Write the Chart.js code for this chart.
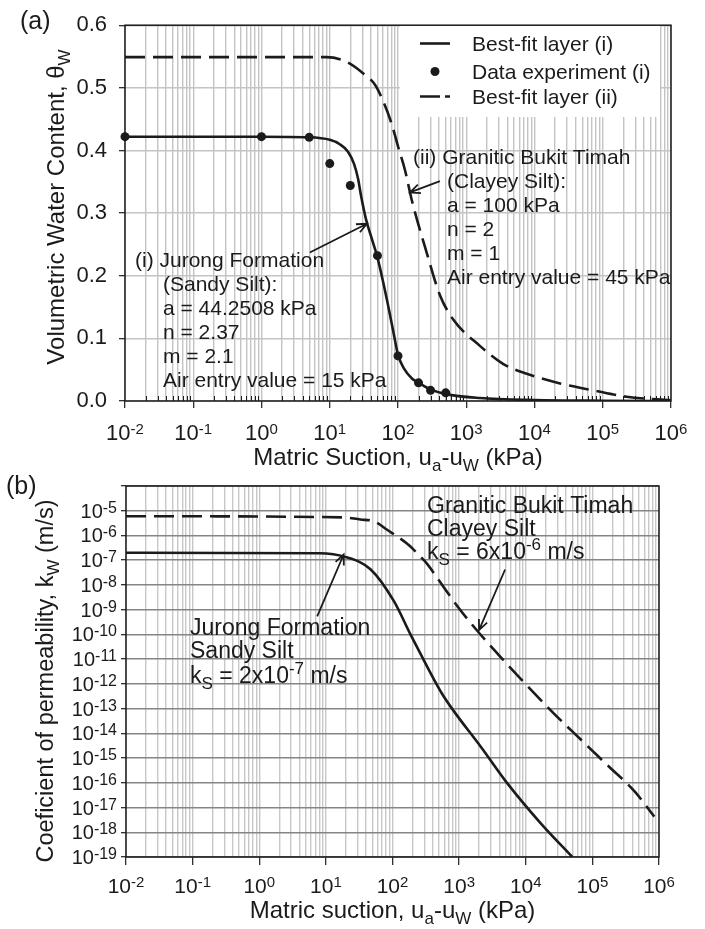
<!DOCTYPE html>
<html>
<head>
<meta charset="utf-8">
<script src="https://cdn.jsdelivr.net/npm/chart.js@4.4.1/dist/chart.umd.min.js"></script>
<style>
  body { margin: 0; background: #fff; width: 705px; height: 929px; position: relative; overflow: hidden; }
  canvas { position: absolute; left: 0; }
  #chartA { top: 0; }
  #chartB { top: 465px; }
</style>
</head>
<body>
<canvas id="chartA" width="705" height="480"></canvas>
<canvas id="chartB" width="705" height="464"></canvas>
<script>
var INK = '#1b1b1b';
var FONT = '"Liberation Sans", Arial, sans-serif';

// (a) water retention: suction (kPa) vs volumetric water content
var suctionFitI = [0.01, 1, 5, 10, 14, 18.5, 22.6, 26, 28.7, 34, 41.6, 49.2, 60, 74, 87, 100, 122, 160, 196, 294, 505, 1585, 10000, 100000, 1000000];
var thetaFitI = [0.422, 0.422, 0.421, 0.417, 0.410, 0.398, 0.379, 0.355, 0.328, 0.290, 0.258, 0.232, 0.192, 0.145, 0.106, 0.074, 0.052, 0.036, 0.030, 0.019, 0.011, 0.0047, 0.0015, 0.0004, 0];
var suctionDataI = [0.01, 1, 5, 10, 20, 50, 100, 200, 300, 500];
var thetaDataI = [0.422, 0.422, 0.421, 0.379, 0.344, 0.232, 0.072, 0.029, 0.017, 0.013];
var suctionFitII = [0.01, 1, 9, 18, 31, 46, 61, 81, 101, 127, 159, 263, 412, 645, 1585, 3500, 7700, 23700, 72800, 224000, 1000000];
var thetaFitII = [0.549, 0.549, 0.549, 0.541, 0.523, 0.505, 0.478, 0.442, 0.405, 0.368, 0.321, 0.237, 0.169, 0.13, 0.088, 0.059, 0.0435, 0.028, 0.017, 0.0068, 0.001];
var thetaTicks = [0, 0.1, 0.2, 0.3, 0.4, 0.5, 0.6];
var suctionExp = [-2, -1, 0, 1, 2, 3, 4, 5, 6];

// (b) permeability functions: suction (kPa) vs k_w (m/s)
var suctionPermI = [0.01, 8, 19.6, 46.7, 105, 186, 331, 420, 560, 832, 2100, 5300, 16800, 50000];
var permI = [2.0e-7, 1.9e-7, 1.35e-7, 4.3e-8, 2.2e-9, 1.0e-10, 5.0e-12, 1.5e-12, 3.8e-13, 7.9e-14, 2.95e-15, 9.5e-17, 2.3e-18, 1.0e-19];
var suctionPermII = [0.01, 18.5, 33, 52, 83, 186, 234, 331, 500, 1000, 1870, 4000, 8400, 26500, 67000, 170000, 430000, 850000];
var permII = [6.0e-6, 5.4e-6, 4.4e-6, 3.8e-6, 1.7e-6, 3.6e-7, 1.9e-7, 7.1e-8, 1.5e-8, 1.12e-9, 1.4e-10, 1.4e-11, 1.6e-12, 6.3e-14, 5.6e-15, 5.0e-16, 4.5e-17, 4.3e-18];
var permExp = [-19, -18, -17, -16, -15, -14, -13, -12, -11, -10, -9, -8, -7, -6, -5];

function pts(xs, ys) {
  return xs.map(function (x, i) { return {x: x, y: ys[i]}; });
}

// decades plus the 2..9 minor values in between
function logTicks(exps, minors) {
  var t = [];
  for (var i = 0; i < exps.length; i++) {
    var base = Math.pow(10, exps[i]);
    t.push({value: base, major: true});
    if (minors && i < exps.length - 1) {
      for (var m = 2; m < 10; m++) t.push({value: m * base, major: false});
    }
  }
  return t;
}

// text runs with superscripts / subscripts: parts = [[text], [text, 'sup'], [text, 'sub']]
function drawRich(ctx, parts, x, y, f, align) {
  var widths = parts.map(function (p) {
    ctx.font = (p[1] ? f.small : f.size) + 'px ' + FONT;
    return ctx.measureText(p[0]).width;
  });
  var total = widths.reduce(function (a, b) { return a + b; }, 0);
  var cx = align === 'center' ? x - total / 2 : (align === 'right' ? x - total : x);
  ctx.textAlign = 'left';
  ctx.textBaseline = 'alphabetic';
  ctx.fillStyle = INK;
  parts.forEach(function (p, i) {
    ctx.font = (p[1] ? f.small : f.size) + 'px ' + FONT;
    var dy = p[1] === 'sup' ? -f.sup : (p[1] === 'sub' ? f.sub : 0);
    ctx.fillText(p[0], cx, y + dy);
    cx += widths[i];
  });
}

function drawArrow(ctx, x1, y1, x2, y2) {
  var a = Math.atan2(y2 - y1, x2 - x1);
  var L = 11, spread = 0.42;
  ctx.save();
  ctx.strokeStyle = INK;
  ctx.lineWidth = 1.8;
  ctx.beginPath();
  ctx.moveTo(x1, y1);
  ctx.lineTo(x2, y2);
  ctx.moveTo(x2 - L * Math.cos(a - spread), y2 - L * Math.sin(a - spread));
  ctx.lineTo(x2, y2);
  ctx.lineTo(x2 - L * Math.cos(a + spread), y2 - L * Math.sin(a + spread));
  ctx.stroke();
  ctx.restore();
}

function frame(chart) {
  var ca = chart.chartArea, ctx = chart.ctx;
  ctx.save();
  ctx.strokeStyle = INK;
  ctx.lineWidth = 1.5;
  ctx.strokeRect(ca.left, ca.top, ca.right - ca.left, ca.bottom - ca.top);
  ctx.restore();
}

function drawTextBlock(ctx, lines, f) {
  lines.forEach(function (l) { drawRich(ctx, l[2], l[0], l[1], f, 'left'); });
}

var suctionTitle = function (word) {
  return [['Matric ' + word + ', u'], ['a', 'sub'], ['-u'], ['W', 'sub'], [' (kPa)']];
};
var titleFont = {size: 24, small: 17, sup: 0, sub: 6};

function drawSuctionLabels(chart, baseline, f) {
  var xs = chart.scales.x, ctx = chart.ctx;
  suctionExp.forEach(function (e) {
    drawRich(ctx, [['10'], [String(e), 'sup']], xs.getPixelForValue(Math.pow(10, e)), baseline, f, 'center');
  });
}

var lineStyle = {
  pointRadius: 0,
  borderColor: INK,
  borderWidth: 2.6,
  cubicInterpolationMode: 'monotone',
  fill: false
};

// ---------- panel (a) ----------
var panelA = {
  id: 'panelA',
  beforeDatasetsDraw: function (chart) {
    var ctx = chart.ctx, ca = chart.chartArea;
    // minor ticks pointing into the plot along the suction axis
    ctx.save();
    ctx.strokeStyle = INK;
    ctx.lineWidth = 1;
    chart.scales.x.ticks.forEach(function (t) {
      if (t.major) return;
      var px = Math.round(chart.scales.x.getPixelForValue(t.value)) + 0.5;
      ctx.beginPath();
      ctx.moveTo(px, ca.bottom);
      ctx.lineTo(px, ca.bottom - 5);
      ctx.stroke();
    });
    // legend
    ctx.fillStyle = '#fff';
    ctx.fillRect(400, 24, 260, 93);
    ctx.strokeStyle = INK;
    ctx.lineWidth = 2.6;
    ctx.beginPath();
    ctx.moveTo(420, 43.5);
    ctx.lineTo(450, 43.5);
    ctx.stroke();
    ctx.fillStyle = INK;
    ctx.beginPath();
    ctx.arc(435, 71.5, 4.5, 0, Math.PI * 2);
    ctx.fill();
    ctx.setLineDash([20, 5]);
    ctx.beginPath();
    ctx.moveTo(420, 96.5);
    ctx.lineTo(450, 96.5);
    ctx.stroke();
    ctx.setLineDash([]);
    ctx.font = '21px ' + FONT;
    ctx.textAlign = 'left';
    ctx.textBaseline = 'alphabetic';
    ctx.fillText('Best-fit layer (i)', 472, 51);
    ctx.fillText('Data experiment (i)', 472, 79);
    ctx.fillText('Best-fit layer (ii)', 472, 104);
    ctx.restore();
  },
  afterDraw: function (chart) {
    var ctx = chart.ctx, xs = chart.scales.x, ys = chart.scales.y;
    frame(chart);
    ctx.save();
    ctx.font = '25px ' + FONT;
    ctx.fillStyle = INK;
    ctx.textAlign = 'left';
    ctx.fillText('(a)', 20, 29);

    drawSuctionLabels(chart, 440, {size: 22, small: 15, sup: 6, sub: 0});
    drawRich(ctx, suctionTitle('Suction'), (chart.chartArea.left + chart.chartArea.right) / 2, 465, titleFont, 'center');

    ctx.save();
    ctx.translate(64, 207);
    ctx.rotate(-Math.PI / 2);
    drawRich(ctx, [['Volumetric Water Content, \u03b8'], ['W', 'sub']], 0, 0, titleFont, 'center');
    ctx.restore();

    var f = {size: 21, small: 14, sup: 8, sub: 5};
    drawTextBlock(ctx, [
      [135, 267, [['(i) Jurong Formation']]],
      [163, 291, [['(Sandy Silt):']]],
      [163, 315, [['a = 44.2508 kPa']]],
      [163, 339, [['n = 2.37']]],
      [163, 363, [['m = 2.1']]],
      [163, 387, [['Air entry value = 15 kPa']]]
    ], f);
    drawTextBlock(ctx, [
      [413, 164, [['(ii) Granitic Bukit Timah']]],
      [447, 188, [['(Clayey Silt):']]],
      [447, 212, [['a = 100 kPa']]],
      [447, 236, [['n = 2']]],
      [447, 260, [['m = 1']]],
      [447, 284, [['Air entry value = 45 kPa']]]
    ], f);
    drawArrow(ctx, xs.getPixelForValue(5.1), ys.getPixelForValue(0.237), xs.getPixelForValue(35), ys.getPixelForValue(0.283));
    drawArrow(ctx, xs.getPixelForValue(412), ys.getPixelForValue(0.351), xs.getPixelForValue(150), ys.getPixelForValue(0.333));
    ctx.restore();
  }
};

new Chart('chartA', {
  type: 'line',
  data: {
    datasets: [
      Object.assign({label: 'Data experiment (i)', data: pts(suctionDataI, thetaDataI), showLine: false,
        pointRadius: 4.5, pointBackgroundColor: INK, pointBorderWidth: 0, clip: false}),
      Object.assign({label: 'Best-fit layer (i)', data: pts(suctionFitI, thetaFitI)}, lineStyle),
      Object.assign({label: 'Best-fit layer (ii)', data: pts(suctionFitII, thetaFitII), borderDash: [20, 8]}, lineStyle)
    ]
  },
  options: {
    responsive: false,
    animation: false,
    events: [],
    layout: {padding: {left: 0, top: 19, right: 34, bottom: 0}},
    plugins: {legend: {display: false}, tooltip: {enabled: false}},
    scales: {
      x: {
        type: 'logarithmic',
        min: 0.01,
        max: 1e6,
        afterBuildTicks: function (s) { s.ticks = logTicks(suctionExp, true); },
        afterFit: function (s) { s.height = 79; },
        ticks: {display: false},
        border: {display: false},
        grid: {
          color: '#c4c4c4',
          lineWidth: 1.4,
          tickLength: 7,
          tickColor: function (c) { return c.tick && c.tick.major ? INK : 'rgba(0,0,0,0)'; },
          tickWidth: 1.2
        }
      },
      y: {
        type: 'linear',
        min: 0,
        max: 0.6,
        afterBuildTicks: function (s) { s.ticks = thetaTicks.map(function (v) { return {value: v}; }); },
        afterFit: function (s) { s.width = 125; },
        border: {display: false},
        grid: {color: '#c4c4c4', lineWidth: 1.4, tickLength: 6, tickColor: INK, tickWidth: 1.2},
        ticks: {
          color: INK,
          padding: 12,
          font: {family: FONT, size: 22},
          callback: function (v) { return Number(v).toFixed(1); }
        }
      }
    }
  },
  plugins: [panelA]
});

// ---------- panel (b) ----------
var panelB = {
  id: 'panelB',
  afterDraw: function (chart) {
    var ctx = chart.ctx, xs = chart.scales.x, ys = chart.scales.y;
    frame(chart);
    ctx.save();
    ctx.font = '25px ' + FONT;
    ctx.fillStyle = INK;
    ctx.textAlign = 'left';
    ctx.fillText('(b)', 6, 29);

    permExp.forEach(function (e) {
      drawRich(ctx, [['10'], [String(e), 'sup']], 117, ys.getPixelForValue(Math.pow(10, e)) + 7,
        {size: 20, small: 16, sup: 5, sub: 0}, 'right');
    });
    drawSuctionLabels(chart, 428, {size: 21, small: 15, sup: 6, sub: 0});
    drawRich(ctx, suctionTitle('suction'), (chart.chartArea.left + chart.chartArea.right) / 2, 453, titleFont, 'center');

    ctx.save();
    ctx.translate(53, 216);
    ctx.rotate(-Math.PI / 2);
    drawRich(ctx, [['Coeficient of permeability, k'], ['W', 'sub'], [' (m/s)']], 0, 0,
      {size: 23.5, small: 17, sup: 0, sub: 6}, 'center');
    ctx.restore();

    var f = {size: 23, small: 17, sup: 9, sub: 6};
    drawTextBlock(ctx, [
      [190, 170, [['Jurong Formation']]],
      [190, 193, [['Sandy Silt']]],
      [190, 218, [['k'], ['S', 'sub'], [' = 2x10'], ['-7', 'sup'], [' m/s']]]
    ], f);
    drawTextBlock(ctx, [
      [427, 48, [['Granitic Bukit Timah']]],
      [427, 71, [['Clayey Silt']]],
      [427, 94, [['k'], ['S', 'sub'], [' = 6x10'], ['-6', 'sup'], [' m/s']]]
    ], f);
    drawArrow(ctx, xs.getPixelForValue(7.4), ys.getPixelForValue(5.4e-10), xs.getPixelForValue(18.5), ys.getPixelForValue(1.7e-7));
    drawArrow(ctx, xs.getPixelForValue(4900), ys.getPixelForValue(4.2e-8), xs.getPixelForValue(1990), ys.getPixelForValue(1.5e-10));
    ctx.restore();
  }
};

new Chart('chartB', {
  type: 'line',
  data: {
    datasets: [
      Object.assign({label: 'Jurong Formation', data: pts(suctionPermI, permI)}, lineStyle),
      Object.assign({label: 'Granitic Bukit Timah', data: pts(suctionPermII, permII), borderDash: [20, 8]}, lineStyle)
    ]
  },
  options: {
    responsive: false,
    animation: false,
    events: [],
    layout: {padding: {left: 0, top: 21, right: 46, bottom: 0}},
    plugins: {legend: {display: false}, tooltip: {enabled: false}},
    scales: {
      x: {
        type: 'logarithmic',
        min: 0.01,
        max: 1e6,
        afterBuildTicks: function (s) { s.ticks = logTicks(suctionExp, true); },
        afterFit: function (s) { s.height = 72; },
        ticks: {display: false},
        border: {display: false},
        grid: {
          color: '#c8c8c8',
          lineWidth: 1.4,
          tickLength: 8,
          tickColor: function (c) { return c.tick && c.tick.major ? INK : 'rgba(0,0,0,0)'; },
          tickWidth: 1.2
        }
      },
      y: {
        type: 'logarithmic',
        min: 1e-19,
        max: 1e-4,
        afterBuildTicks: function (s) { s.ticks = logTicks(permExp.concat([-4]), false); },
        afterFit: function (s) { s.width = 126; },
        ticks: {display: false},
        border: {display: false},
        grid: {color: '#858585', lineWidth: 1.4, tickLength: 5, tickColor: INK, tickWidth: 1.2}
      }
    }
  },
  plugins: [panelB]
});
</script>
</body>
</html>
